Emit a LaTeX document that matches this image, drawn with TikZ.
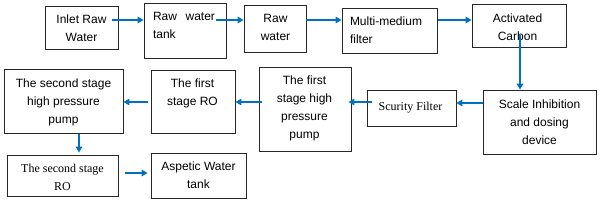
\documentclass[tikz,border=0pt]{standalone}
\usepackage{fontspec}
\setmainfont{Liberation Sans}
\newfontfamily\serifff{Liberation Serif}
\usetikzlibrary{arrows.meta}
\definecolor{arrblue}{RGB}{0,112,192}
\definecolor{boxline}{RGB}{40,40,40}
\begin{document}
\begin{tikzpicture}[x=1pt,y=-1pt,
  box/.style={draw=boxline,line width=0.8pt,minimum width=#1,inner sep=0pt},
  txt/.style={align=center,inner sep=0pt,font=\fontsize{12}{18}\selectfont},
  arr/.style={draw=arrblue,line width=1.6pt,-{Triangle[length=6pt,width=6.5pt]}}]
\useasboundingbox (0,0) rectangle (600,209);
% boxes
\node[box=73pt,minimum height=43pt] (inlet) at (81.5,27.5) {};
\node[box=82pt,minimum height=55pt] (tank) at (185,30.5) {};
\node[box=62pt,minimum height=47pt] (raw) at (275,28.5) {};
\node[box=95pt,minimum height=45pt] (mmf) at (389.5,30.5) {};
\node[box=94pt,minimum height=43pt] (ac) at (519,25.5) {};
\node[box=119pt,minimum height=64pt] (hp2) at (63.5,101) {};
\node[box=84pt,minimum height=63pt] (ro1) at (193,101.5) {};
\node[box=92pt,minimum height=84pt] (hp1) at (305,109) {};
\node[box=89pt,minimum height=36pt] (sf) at (411.5,108) {};
\node[box=113pt,minimum height=64pt] (scale) at (539.5,122) {};
\node[box=111pt,minimum height=41pt] (ro2) at (62.5,175.5) {};
\node[box=95pt,minimum height=45pt] (aw) at (198.5,175.5) {};
% texts
\node[txt] (inlett) at (81.5,28.5) {Inlet Raw\\Water};
\node[txt,text width=62pt,align=left] (tankt) at (184,25.5) {Raw\hfill water\\tank};
\node[txt] (rawt) at (275.5,27) {Raw\\water};
\node[txt,text width=79pt,align=left] (mmft) at (389.5,30.5) {Multi-medium\\filter};
\node[txt] (act) at (517.5,27) {Activated\\Carbon};
\node[txt] (hp2t) at (63.5,102.5) {The second stage\\high pressure\\pump};
\node[txt] (ro1t) at (192.5,93.5) {The first\\stage RO};
\node[txt] (hp1t) at (304.5,108) {The first\\stage high\\pressure\\pump};
\node[txt,font=\serifff\fontsize{12}{18}\selectfont] (sft) at (410.5,107.5) {Scurity Filter};
\node[txt] (scalet) at (539.5,122) {Scale Inhibition\\and dosing\\device};
\node[txt,font=\serifff\fontsize{12}{18}\selectfont] (ro2t) at (62.5,177) {The second stage\\RO};
\node[txt] (awt) at (198.5,175) {Aspetic Water\\tank};
% arrow starts
\coordinate (s1) at (112,20);
\coordinate (s2) at (216,20);
\coordinate (s3) at (306,20);
\coordinate (s4) at (438,20);
\coordinate (s5) at (520,35);
\coordinate (s6) at (483,103);
\coordinate (s7) at (372,102);
\coordinate (s8) at (262,102);
\coordinate (s9) at (148,102);
\coordinate (s10) at (79,133.5);
\coordinate (s11) at (125,173);
% arrows
\draw[arr] (s1) -- (tank.west |- s1);
\draw[arr] (s2) -- (raw.west |- s2);
\draw[arr] (s3) -- (mmf.west |- s3);
\draw[arr] (s4) -- (ac.west |- s4);
\draw[arr] (s5) -- (s5 |- scale.north);
\draw[arr] (s6) -- (sf.east |- s6);
\draw[arr] (s7) -- ([xshift=-3pt]hp1.east |- s7);
\draw[arr] (s8) -- (ro1.east |- s8);
\draw[arr] (s9) -- (hp2.east |- s9);
\draw[arr] (s10) -- ([yshift=2pt]s10 |- ro2.north);
\draw[arr] (s11) -- ([xshift=-3pt]aw.west |- s11);
\end{tikzpicture}
\end{document}
